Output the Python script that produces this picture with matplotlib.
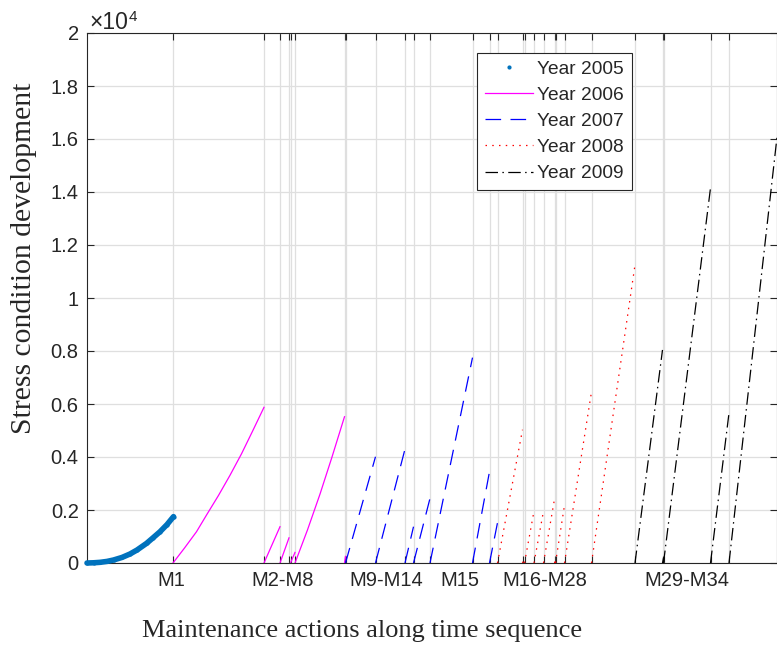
import matplotlib
matplotlib.use('Agg')
import matplotlib.pyplot as plt
import matplotlib.transforms as mtransforms
import numpy as np

# time axis in days, stress values in raw units (shown x 10^4)
nan = np.nan

x_2005 = [0, 13, 26, 40, 53, 70, 86, 100, 119, 132, 146, 160, 173]
y_2005 = [0, 8, 25, 60, 113, 210, 340, 490, 740, 950, 1180, 1450, 1750]

x_2006 = [172, 195, 219, 240, 263, 286, 309, 331, 354, nan, 354, 386, nan,
          386, 404, nan, 407, 416, nan, 416, 441, 466, 490, 515, nan, 515, 517]
y_2006 = [0, 565, 1180, 1840, 2550, 3310, 4120, 4970, 5875, nan, 0, 1370, nan,
          0, 950, nan, 0, 400, nan, 0, 1250, 2600, 4000, 5520, nan, 0, 250]

x_2007 = [517, 577, nan, 577, 636, nan, 636, 653, nan, 653, 686, nan,
          686, 771, nan, 771, 805, nan, 805, 821]
y_2007 = [0, 4010, nan, 0, 4300, nan, 0, 1370, nan, 0, 2440, nan,
          0, 7750, nan, 0, 3450, nan, 0, 1520]

x_2008 = [821, 871, nan, 871, 875, nan, 875, 894, nan, 894, 913, nan,
          913, 935, nan, 935, 937, nan, 937, 955, nan, 955, 1009, nan,
          1009, 1096]
y_2008 = [0, 5030, nan, 0, 200, nan, 0, 1960, nan, 0, 1960, nan,
          0, 2415, nan, 0, 150, nan, 0, 2180, nan, 0, 6460, nan,
          0, 11250]

x_2009 = [1096, 1151, nan, 1151, 1153, nan, 1153, 1247, nan, 1247, 1284, nan,
          1284, 1380]
y_2009 = [0, 8040, nan, 0, 200, nan, 0, 14150, nan, 0, 5660, nan,
          0, 16070]

# maintenance action times (vertical grid lines)
maint_days = [172, 354, 386, 404, 407, 416, 515, 517, 577, 636, 653, 686,
              771, 805, 821, 871, 875, 894, 913, 935, 937, 955, 1009, 1096,
              1151, 1153, 1247, 1284]

group_labels = ['M1', 'M2-M8', 'M9-M14', 'M15', 'M16-M28', 'M29-M34']
group_pos = [168, 392, 599, 745, 916, 1200]

fig = plt.figure(figsize=(7.77, 6.57), dpi=100)
ax = fig.add_axes([87/777, 94/657, 690/777, 530/657])

dark = '#262626'
sans = 'Liberation Sans'
serif = 'Liberation Serif'

ax.plot(x_2005, y_2005, color='#0072bd', lw=4.0, solid_capstyle='round',
        solid_joinstyle='round', clip_on=False, zorder=3)
ax.plot(x_2005, y_2005, '.', color='#0072bd', ms=4, label='Year 2005',
        clip_on=False, zorder=3)
ax.plot(x_2006, y_2006, '-', color='#ff00ff', lw=0.9, label='Year 2006')
ax.plot(x_2007, y_2007, color='#0000ff', lw=0.9, dashes=(12.5, 7.5),
        label='Year 2007')
ax.plot(x_2008, y_2008, color='#ff0000', lw=0.9, dashes=(1.2, 4.2),
        label='Year 2008')
ax.plot(x_2009, y_2009, color='black', lw=0.9, dashes=(10, 3.5, 1.2, 3.5),
        label='Year 2009')

ax.set_xlim(0, 1380)
ax.set_ylim(0, 20000)
ax.set_xticks(maint_days)
ax.set_xticklabels([''] * len(maint_days))
ax.set_yticks(np.arange(0, 20001, 2000))
ax.set_yticklabels(['0', '0.2', '0.4', '0.6', '0.8', '1', '1.2', '1.4',
                    '1.6', '1.8', '2'], fontname=sans, fontsize=14.5,
                   color=dark)
ax.tick_params(direction='in', length=5, width=0.8, color=dark,
               top=True, right=True, pad=6)
ax.grid(True, color='#dfdfdf', lw=0.9)
ax.set_axisbelow(True)
for s in ax.spines.values():
    s.set_color(dark)
    s.set_linewidth(0.8)

trans = mtransforms.blended_transform_factory(ax.transData, ax.transAxes)
for lab, pos in zip(group_labels, group_pos):
    ax.text(pos, -0.033, lab, transform=trans, ha='center', va='center',
            fontname=sans, fontsize=14.5, color=dark)

ax.text(550, -0.1396, 'Maintenance actions along time sequence',
        transform=trans, ha='center', va='baseline', fontname=serif,
        fontsize=19, color=dark)
ax.text(-0.0913, 0.5755, 'Stress condition development', transform=ax.transAxes,
        rotation=90, ha='center', va='center', fontname=serif, fontsize=21.3,
        color=dark)

fig.text(89/777, 1 - 29/657, '\u00d710', fontname=sans, fontsize=16.5,
         color=dark, ha='left', va='baseline')
fig.text(129/777, 1 - 21/657, '4', fontname=sans, fontsize=11,
         color=dark, ha='left', va='baseline')

leg = ax.legend(loc='upper left', bbox_to_anchor=((477-87)/690, (563-53)/530),
                prop={'family': sans, 'size': 13.8}, frameon=True,
                fancybox=False, framealpha=1, edgecolor=dark,
                handlelength=2.5, handletextpad=0.25, labelspacing=0.45,
                borderpad=0.4, borderaxespad=0)
leg.get_frame().set_linewidth(0.8)
for t in leg.get_texts():
    t.set_color(dark)

fig.savefig('out.png', dpi=100)
